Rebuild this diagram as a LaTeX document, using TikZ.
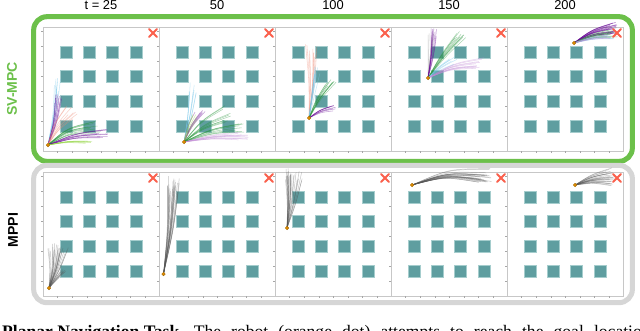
\documentclass[tikz,border=0pt]{standalone}
\usepackage{fontspec}
\setmainfont{Liberation Sans}
\newfontfamily\capfont{Liberation Serif}
\usetikzlibrary{positioning,calc,fit,shapes.misc}

\definecolor{svgreen}{RGB}{108,192,74}
\definecolor{framegray}{RGB}{214,214,214}
\definecolor{obstacle}{RGB}{95,158,160}
\definecolor{obstedge}{RGB}{165,205,205}
\definecolor{goalred}{RGB}{250,96,76}
\definecolor{robotorange}{RGB}{222,140,0}
\definecolor{trpurple}{RGB}{105,10,150}
\definecolor{trgreen}{RGB}{40,150,60}
\definecolor{trlime}{RGB}{150,215,70}
\definecolor{trblue}{RGB}{120,200,235}
\definecolor{trsalmon}{RGB}{240,140,120}
\definecolor{trlilac}{RGB}{195,140,215}
\definecolor{trgray}{RGB}{85,85,85}

% obstacles and ticks of one panel (local coords, y down)
\newcommand\arena[1]{%
  \foreach \i in {0,...,3}
    \foreach \j in {0,...,3}
      \node[obst] (#1o\i\j) at ({23+23.3*\i},{25+24.7*\j}) {};
  \foreach \tk in {1,...,8} \draw[tick] (0,{124-15*\tk}) -- ++(-1.6,0);
  \foreach \tk in {1,...,7} \draw[tick] ({14.6*\tk},124) -- ++(0,1.6);
}

% a fan of sampled paths: start, angle, spread, length, bend, style, count
\newcommand\fan[7]{%
  \foreach \k in {1,...,#7}{%
    \pgfmathsetmacro\fnang{-(#2)+(#3)*rand}%
    \pgfmathsetmacro\fnlen{(#4)*(0.8+0.2*rnd)}%
    \pgfmathsetmacro\fnhalf{\fnlen*0.5}%
    \pgfmathsetmacro\fnctl{\fnang-(#5)}%
    \draw[#6] (#1) .. controls ($(#1)+(\fnctl:\fnhalf)$) .. ($(#1)+(\fnang:\fnlen)$);
  }}

\begin{document}
\begin{tikzpicture}[
  x=0.03cm, y=-0.03cm,
  panel/.style={draw=black!22,line width=0.5pt,fill=white,minimum width=3.48cm,minimum height=3.72cm,inner sep=0pt,outer sep=0pt},
  obst/.style={fill=obstacle,draw=obstedge,line width=0.5pt,minimum size=0.36cm,inner sep=0pt},
  goal/.style={cross out,draw=goalred,line width=1.7pt,line cap=round,minimum size=0.17cm,inner sep=0pt},
  robot/.style={circle,fill=robotorange,draw=robotorange!70!black,line width=0.2pt,minimum size=0.11cm,inner sep=0pt},
  hdr/.style={font=\fontsize{11}{13}\selectfont,inner sep=0pt},
  rowlab/.style={rotate=90,font=\bfseries\fontsize{12}{14}\selectfont,inner sep=0pt},
  frame/.style={line width=4.3pt,rounded corners=0.4cm,inner xsep=0.28cm},
  sv/.style={line width=0.45pt,opacity=0.4},
  mp/.style={trgray,line width=0.4pt,opacity=0.35},
  tick/.style={draw=black!35,line width=0.3pt}
]
\pgfmathsetseed{12}
\useasboundingbox (0,0) rectangle (640,330);

% panels
\node[panel,anchor=north west] (sv25) at (43,27) {};
\node[panel,right=0pt of sv25] (sv50) {};
\node[panel,right=0pt of sv50] (sv100) {};
\node[panel,right=0pt of sv100] (sv150) {};
\node[panel,right=0pt of sv150] (sv200) {};
\node[panel,below=0.63cm of sv25] (mp25) {};
\node[panel,right=0pt of mp25] (mp50) {};
\node[panel,right=0pt of mp50] (mp100) {};
\node[panel,right=0pt of mp100] (mp150) {};
\node[panel,right=0pt of mp150] (mp200) {};

% frames
\node[frame,draw=svgreen,inner ysep=0.31cm,fit=(sv25)(sv200)] (svframe) {};
\node[frame,draw=framegray,inner ysep=0.2cm,fit=(mp25)(mp200)] (mpframe) {};

% headers
\node[hdr,above=0.5cm of sv25] (h25) {t = 25};
\node[hdr,above=0.5cm of sv50] (h50) {50};
\node[hdr,above=0.5cm of sv100] (h100) {100};
\node[hdr,above=0.5cm of sv150] (h150) {150};
\node[hdr,above=0.5cm of sv200] (h200) {200};

\node[rowlab,text=svgreen] (svlab) at (12,89) {SV-MPC};
\node[rowlab] (mplab) at (13,230) {MPPI};

% SV-MPC row
\begin{scope}[shift={(sv25.north west)}]
  \arena{sv25}
  \coordinate (sv25s) at (5,118);
  \fan{sv25s}{82}{3}{68}{-4}{sv,trblue}{8}
  \fan{sv25s}{78}{5}{52}{-6}{sv,trpurple}{10}
  \fan{sv25s}{58}{12}{45}{10}{sv,trsalmon}{8}
  \fan{sv25s}{20}{8}{55}{15}{sv,trgreen}{12}
  \fan{sv25s}{12}{5}{62}{8}{sv,trpurple}{10}
  \fan{sv25s}{5}{3}{45}{6}{sv,trlime}{8}
  \node[robot] (sv25r) at (sv25s) {};
  \node[goal] (sv25g) at (110,6) {};
\end{scope}
\begin{scope}[shift={(sv50.north west)}]
  \arena{sv50}
  \coordinate (sv50s) at (25,115);
  \fan{sv50s}{80}{5}{60}{-3}{sv,trblue}{8}
  \fan{sv50s}{62}{8}{38}{8}{sv,trpurple}{6}
  \fan{sv50s}{35}{10}{55}{10}{sv,trgreen}{10}
  \fan{sv50s}{14}{5}{63}{8}{sv,trgreen}{8}
  \fan{sv50s}{6}{4}{66}{5}{sv,trlilac}{10}
  \fan{sv50s}{66}{6}{30}{5}{sv,trlime}{5}
  \node[robot] (sv50r) at (sv50s) {};
  \node[goal] (sv50g) at (110,6) {};
\end{scope}
\begin{scope}[shift={(sv100.north west)}]
  \arena{sv100}
  \coordinate (sv100s) at (34,91);
  \fan{sv100s}{88}{5}{75}{-3}{sv,trsalmon}{10}
  \fan{sv100s}{80}{5}{52}{0}{sv,trblue}{10}
  \fan{sv100s}{58}{6}{45}{6}{sv,trgreen}{10}
  \fan{sv100s}{22}{6}{30}{10}{sv,trpurple}{8}
  \node[robot] (sv100r) at (sv100s) {};
  \node[goal] (sv100g) at (110,6) {};
\end{scope}
\begin{scope}[shift={(sv150.north west)}]
  \arena{sv150}
  \coordinate (sv150s) at (37,51);
  \fan{sv150s}{86}{6}{45}{0}{sv,black!40}{6}
  \fan{sv150s}{82}{6}{50}{-4}{sv,trpurple}{10}
  \fan{sv150s}{52}{6}{58}{4}{sv,trgreen}{10}
  \fan{sv150s}{35}{8}{35}{6}{sv,trblue}{6}
  \fan{sv150s}{15}{5}{60}{10}{sv,trlilac}{10}
  \node[robot] (sv150r) at (sv150s) {};
  \node[goal] (sv150g) at (110,6) {};
\end{scope}
\begin{scope}[shift={(sv200.north west)}]
  \arena{sv200}
  \coordinate (sv200s) at (67,16);
  \fan{sv200s}{20}{8}{47}{10}{sv,trpurple,opacity=0.55}{18}
  \fan{sv200s}{14}{6}{44}{8}{sv,trgreen,opacity=0.5}{10}
  \fan{sv200s}{10}{5}{42}{6}{sv,trblue}{6}
  \fan{sv200s}{12}{6}{40}{6}{sv,trlilac}{6}
  \node[robot] (sv200r) at (sv200s) {};
  \node[goal] (sv200g) at (110,6) {};
\end{scope}

% MPPI row
\begin{scope}[shift={(mp25.north west)}]
  \arena{mp25}
  \coordinate (mp25s) at (6,116);
  \fan{mp25s}{78}{14}{45}{-5}{mp}{25}
  \fan{mp25s}{45}{12}{25}{5}{mp}{8}
  \node[robot] (mp25r) at (mp25s) {};
  \node[goal] (mp25g) at (110,6) {};
\end{scope}
\begin{scope}[shift={(mp50.north west)}]
  \arena{mp50}
  \coordinate (mp50s) at (4.5,102);
  \fan{mp50s}{84}{4}{98}{-3}{mp}{25}
  \node[robot] (mp50r) at (mp50s) {};
  \node[goal] (mp50g) at (110,6) {};
\end{scope}
\begin{scope}[shift={(mp100.north west)}]
  \arena{mp100}
  \coordinate (mp100s) at (12,56);
  \fan{mp100s}{82}{10}{60}{-3}{mp}{25}
  \node[robot] (mp100r) at (mp100s) {};
  \node[goal] (mp100g) at (110,6) {};
\end{scope}
\begin{scope}[shift={(mp150.north west)}]
  \arena{mp150}
  \coordinate (mp150s) at (21,13);
  \fan{mp150s}{7}{5}{80}{12}{mp}{25}
  \node[robot] (mp150r) at (mp150s) {};
  \node[goal] (mp150g) at (110,6) {};
\end{scope}
\begin{scope}[shift={(mp200.north west)}]
  \arena{mp200}
  \coordinate (mp200s) at (68,13);
  \fan{mp200s}{12}{14}{42}{8}{mp}{25}
  \node[robot] (mp200r) at (mp200s) {};
  \node[goal] (mp200g) at (110,6) {};
\end{scope}

% caption, cut by the page edge
\node[anchor=base west,font=\capfont\fontsize{15}{17}\selectfont,inner sep=0pt] (cap) at (2,337.5)
  {\makebox[19.45cm][s]{\mbox{\textbf{Planar Navigation Task.}} The robot (orange dot) attempts to reach the goal location}};
\end{tikzpicture}
\end{document}
